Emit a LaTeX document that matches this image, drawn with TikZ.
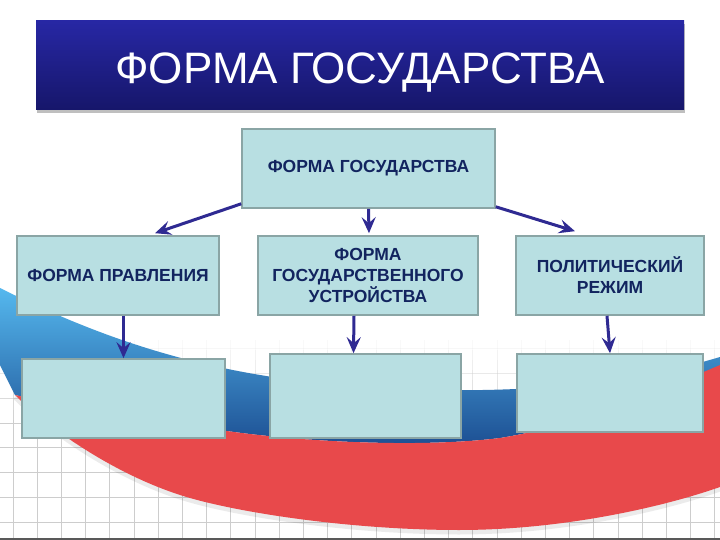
\documentclass[tikz,border=0pt]{standalone}
\usepackage{fontspec}
\setmainfont{Liberation Sans}
\usetikzlibrary{arrows.meta,calc,shadows}
\definecolor{bannerTop}{HTML}{2727A4}
\definecolor{bannerBot}{HTML}{16166A}
\definecolor{boxfill}{HTML}{B8DFE2}
\definecolor{boxline}{HTML}{8AA5A5}
\definecolor{navy}{HTML}{12245F}
\definecolor{arrowc}{HTML}{2F2A92}
\definecolor{redsw}{HTML}{E8494B}
\definecolor{blueA}{HTML}{55B8EE}
\definecolor{blueB}{HTML}{1C4E92}
\definecolor{gridc}{HTML}{CDCDCD}
\begin{document}
\begin{tikzpicture}[x=1pt,y=-1pt,
  box/.style={draw=boxline, line width=1.6pt, fill=boxfill, align=center,
    font=\bfseries\fontsize{17.5}{21}\selectfont, text=navy, inner sep=0pt},
  conn/.style={draw=arrowc, line width=3pt, -{Stealth[length=16pt,width=14pt,inset=6pt]}},
  bannerbox/.style={top color=bannerTop, bottom color=bannerBot,
    minimum width=648pt, minimum height=89pt, inner sep=0pt,
    drop shadow={shadow xshift=1pt, shadow yshift=-3pt, opacity=0.25, fill=black}},
  titletext/.style={text=white, font=\fontsize{44}{46}\selectfont, inner sep=0pt, anchor=base}]
\useasboundingbox (0,0) rectangle (720,540);
\fill[white] (0,0) rectangle (720,540);
% grid
\foreach \k in {0,...,7} {
  \pgfmathsetmacro\yy{348.6+24.8*\k}
  \pgfmathsetmacro\op{min(1,max(0,(\yy-335)/90))}
  \draw[gridc, opacity=\op, line width=0.8pt] (0,\yy) -- (720,\yy);
}
\foreach \s in {0,...,20} {
  \pgfmathsetmacro\ya{330+10*\s}
  \pgfmathsetmacro\yb{\ya+10}
  \pgfmathsetmacro\op{min(1,max(0,(\ya+5-335)/90))}
  \foreach \j in {0,...,29} {
    \draw[gridc, opacity=\op, line width=0.8pt] (13+24.2*\j,\ya) -- (13+24.2*\j,\yb);
  }
}
% blue swoosh
\shade[top color=blueA, bottom color=blueB]
  (0,288) .. controls (100,338) and (200,372) .. (330,384)
  .. controls (430,393) and (520,392) .. (600,382)
  .. controls (650,376) and (690,366) .. (720,357) -- (720,366)
  .. controls (650,395) and (580,425) .. (500,438)
  .. controls (420,448) and (300,442) .. (220,430)
  .. controls (140,418) and (60,405) .. (15,395) -- (0,365) -- cycle;
% red swoosh shadow
\draw[black, opacity=0.08, line width=5pt]
  (720,489) .. controls (660,510) and (560,532) .. (459,532)
  .. controls (360,532) and (250,517) .. (190,500)
  .. controls (120,480) and (50,432) .. (15,397);
% red swoosh
\fill[redsw]
  (15,395) .. controls (60,405) and (140,418) .. (220,430)
  .. controls (300,442) and (420,448) .. (500,438)
  .. controls (580,425) and (650,395) .. (720,365) -- (720,487)
  .. controls (660,508) and (560,530) .. (459,530)
  .. controls (360,530) and (250,515) .. (190,498)
  .. controls (120,478) and (50,430) .. (15,395) -- cycle;
\draw[gray!70!black, line width=1.5pt] (0,539.2) -- (720,539.2);
% title
\node[bannerbox] (banner) at (360,65.5) {};
\node[titletext] (title) at (360,83.3) {ФОРМА ГОСУДАРСТВА};
% boxes
\node[box, minimum width=253pt, minimum height=79pt] (top) at (368.5,168.5) {ФОРМА ГОСУДАРСТВА};
\node[box, minimum width=202pt, minimum height=79pt] (a2) at (118,275.5) {ФОРМА ПРАВЛЕНИЯ};
\node[box, minimum width=220pt, minimum height=79pt] (b2) at (368,275.5) {ФОРМА\\ГОСУДАРСТВЕННОГО\\УСТРОЙСТВА};
\node[box, minimum width=188pt, minimum height=79pt] (c2) at (610,275.5) {ПОЛИТИЧЕСКИЙ\\РЕЖИМ};
\node[box, minimum width=203pt, minimum height=79pt] (a3) at (123.5,398.5) {};
\node[box, minimum width=191pt, minimum height=84pt] (b3) at (365.5,396) {};
\node[box, minimum width=186pt, minimum height=78pt] (c3) at (610,393) {};
% connectors
\draw[conn] ($(top.south west)+(0,-5)$) -- ($(a2.north)+(37,-2)$);
\draw[conn] (top.south) -- ($(b2.north)+(1,-2)$);
\draw[conn] ($(top.south east)+(0,-2)$) -- ($(c2.north)+(-35,-4)$);
\draw[conn] ($(a2.south)+(5.5,0)$) -- (a3.north);
\draw[conn] ($(b2.south)+(-14,0)$) -- ($(b3.north)+(-12,0)$);
\draw[conn] ($(c2.south)+(-3,0)$) -- (c3.north);
\end{tikzpicture}
\end{document}
